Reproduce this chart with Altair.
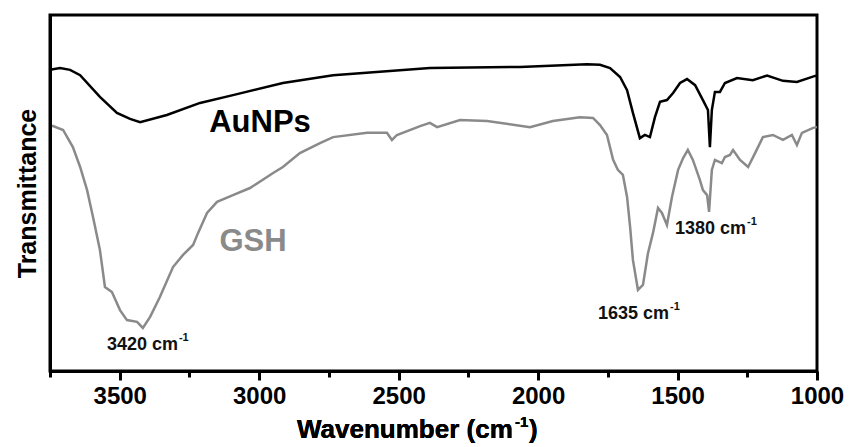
import altair as alt
import pandas as pd

# AuNPs spectrum (black)
au_wn = [3750, 3714, 3678, 3642, 3571, 3510, 3463, 3427, 3331, 3212, 3094, 2915, 2735,
         2388, 2065, 1825, 1778, 1742, 1706, 1681, 1660, 1635, 1617, 1599, 1581, 1563,
         1538, 1516, 1491, 1466, 1437, 1409, 1391, 1384, 1377, 1366, 1348, 1330, 1287,
         1230, 1179, 1122, 1072, 1007, 1000]
au_t = [84.6, 85.1, 84.6, 83.1, 77.0, 72.5, 70.8, 69.9, 71.9, 75.3, 77.5, 80.9, 83.1,
        85.1, 85.4, 86.2, 86.0, 85.1, 82.6, 78.9, 72.5, 65.4, 66.3, 65.7, 71.3, 75.6,
        76.1, 78.1, 80.9, 82.0, 80.3, 76.1, 73.3, 62.9, 73.3, 78.4, 78.4, 80.9, 82.3,
        81.7, 83.0, 81.5, 81.2, 82.9, 82.9]

# GSH spectrum (gray)
gsh_wn = [3743, 3739, 3703, 3668, 3642, 3617, 3596, 3571, 3553, 3528, 3499, 3474, 3438,
          3417, 3391, 3356, 3309, 3273, 3237, 3219, 3187, 3151, 3094, 3033,
          2950, 2915, 2854, 2782, 2735, 2613, 2542, 2524, 2506, 2423, 2388, 2362, 2280,
          2183, 2029, 1947, 1850, 1803,
          1778, 1753, 1731, 1714, 1696, 1681, 1670, 1660, 1642, 1624, 1606, 1588, 1570,
          1556, 1538, 1520, 1498, 1480, 1463, 1445, 1420, 1409, 1394, 1387, 1377, 1366,
          1341, 1330, 1312, 1301, 1276, 1247, 1222, 1194, 1158, 1122, 1090, 1072, 1054,
          1014, 1000]
gsh_t = [68.8, 68.8, 67.7, 62.9, 57.3, 50.8, 43.3, 34.0, 23.6, 22.2, 17.1, 14.3, 13.8,
         12.1, 15.2, 20.8, 29.2, 32.6, 35.4, 38.8, 44.4, 47.5, 49.4, 51.4,
         55.6, 57.3, 61.2, 64.0, 65.7, 66.9, 66.9, 64.9, 66.3, 68.8, 69.7, 68.5, 70.5,
         70.2, 68.5, 70.2, 71.3, 71.1,
         69.1, 66.3, 59.3, 56.5, 55.1, 48.9, 40.4, 31.2, 22.8, 24.2, 33.1, 38.8, 45.8,
         44.4, 41.0, 48.9, 56.5, 59.8, 62.1, 59.3, 53.7, 50.8, 49.4, 44.7, 56.5, 59.3,
         58.4, 60.1, 60.7, 62.1, 59.3, 57.3, 61.2, 65.7, 66.3, 64.9, 66.3, 63.5, 66.9,
         68.3, 68.5]

# Series labels
series_names = ["AuNPs", "GSH"]
series_colors = ["#000000", "#8a8a8a"]
label_wn = [2997, 3022]
label_t = [69.8, 36.2]

# Peak annotations
ann_text = ["3420 cm", "1635 cm", "1380 cm"]
ann_wn = [3546, 1785, 1509]
ann_t = [7.3, 16.0, 39.9]

df = pd.concat([
    pd.DataFrame({"wn": au_wn, "t": au_t, "s": "AuNPs"}),
    pd.DataFrame({"wn": gsh_wn, "t": gsh_t, "s": "GSH"}),
])
lab_df = pd.DataFrame({"name": series_names, "wn": label_wn, "t": label_t, "color": series_colors})
ann_df = pd.DataFrame({"text": ann_text, "wn": ann_wn, "t": ann_t})

xscale = alt.Scale(domain=[1000, 3750], reverse=True, nice=False, zero=False)
yscale = alt.Scale(domain=[0, 100], nice=False, zero=False)

xaxis = alt.Axis(
    values=list(range(1000, 3751, 250)),
    labelExpr="datum.value % 500 == 0 ? datum.label : ''",
    format="d",
    title=None,
    grid=False,
    domainColor="black",
    domainWidth=3,
    tickColor="black",
    tickWidth=3,
    tickSize={"condition": {"test": "datum.value % 500 == 0", "value": 9}, "value": 6},
    labelFontSize=24,
    labelFontWeight="bold",
    labelColor="black",
    labelPadding=4,
    labelFlush=False,
)
yaxis = alt.Axis(
    title="Transmittance",
    labels=False,
    ticks=False,
    grid=False,
    domainColor="black",
    domainWidth=3,
    titleFontSize=25,
    titleFontWeight="bold",
    titleColor="black",
    titlePadding=10,
)

lines = alt.Chart(df).mark_line(strokeWidth=2.5).encode(
    x=alt.X("wn:Q", scale=xscale, axis=xaxis),
    y=alt.Y("t:Q", scale=yscale, axis=yaxis),
    color=alt.Color("s:N", scale=alt.Scale(domain=series_names, range=series_colors), legend=None),
)

labels = alt.Chart(lab_df).mark_text(fontSize=31, fontWeight="bold", baseline="middle", align="center").encode(
    x=alt.X("wn:Q", scale=xscale),
    y=alt.Y("t:Q", scale=yscale),
    text="name:N",
    color=alt.Color("color:N", scale=None),
)

ann = alt.Chart(ann_df).mark_text(fontSize=18, fontWeight="bold", baseline="middle", align="left", color="#111111").encode(
    x=alt.X("wn:Q", scale=xscale),
    y=alt.Y("t:Q", scale=yscale),
    text="text:N",
)
ann_sup = alt.Chart(ann_df).mark_text(fontSize=11, fontWeight="bold", baseline="middle", align="left",
                                      color="#111111", dx=72, dy=-7).encode(
    x=alt.X("wn:Q", scale=xscale),
    y=alt.Y("t:Q", scale=yscale),
    text=alt.value("-1"),
)

title_main = alt.Chart(ann_df).mark_text(fontSize=26, fontWeight="bold", align="left", baseline="alphabetic",
                                         color="black").encode(
    x=alt.value(247), y=alt.value(423), text=alt.value("Wavenumber (cm"))
title_sup = alt.Chart(ann_df).mark_text(fontSize=15, fontWeight="bold", align="left", baseline="alphabetic",
                                        color="black").encode(
    x=alt.value(465), y=alt.value(412), text=alt.value("-1"))
title_par = alt.Chart(ann_df).mark_text(fontSize=26, fontWeight="bold", align="left", baseline="alphabetic",
                                        color="black").encode(
    x=alt.value(479), y=alt.value(423), text=alt.value(")"))

chart = alt.layer(lines, labels, ann, ann_sup, title_main, title_sup, title_par).properties(
    width=767, height=356,
    autosize=alt.AutoSizeParams(type="none"),
    padding={"left": 50, "top": 15, "right": 34, "bottom": 76},
).configure(font="Liberation Sans").configure_view(stroke="black", strokeWidth=3)

chart.save("out.html", embed_options={"renderer": "svg", "actions": False})
